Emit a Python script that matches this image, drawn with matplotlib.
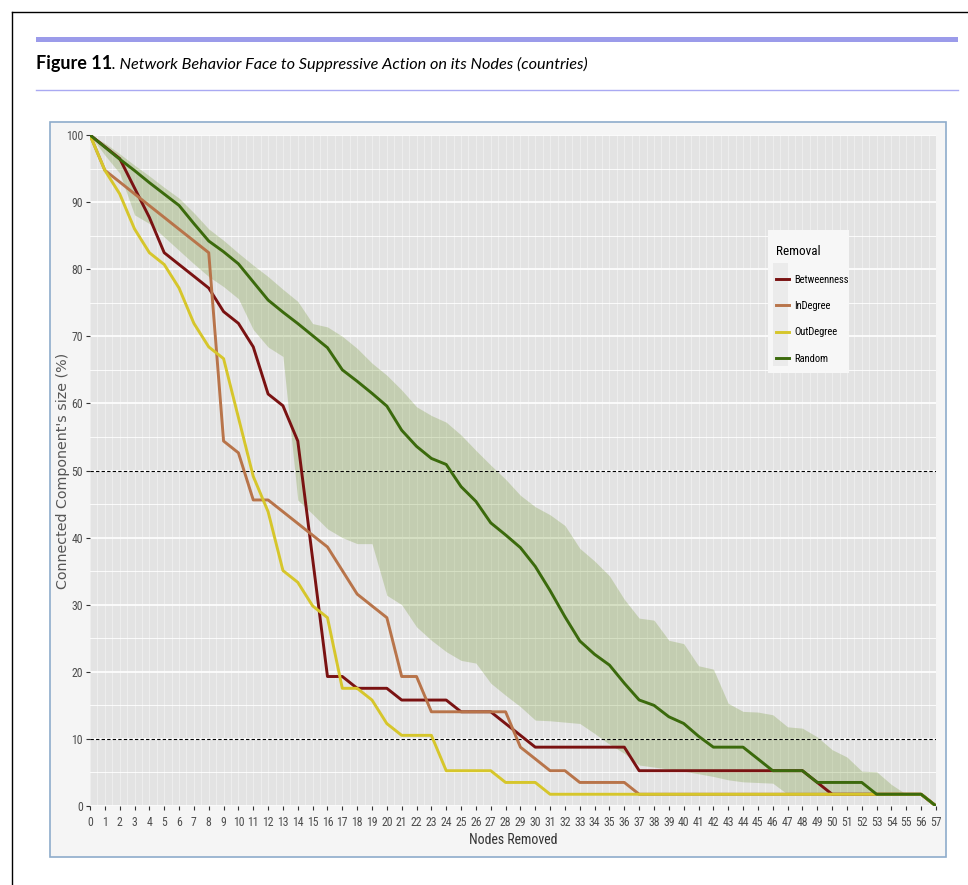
import numpy as np
import matplotlib.pyplot as plt
from matplotlib import font_manager as fm
from matplotlib.patches import Rectangle
from matplotlib.lines import Line2D


def pick_narrow():
    # prefer a condensed sans (the chart uses Arial Narrow-like text)
    for fam in ['Liberation Sans Narrow', 'Roboto Condensed', 'Open Sans Condensed']:
        try:
            fm.findfont(fm.FontProperties(family=fam), fallback_to_default=False)
            return {'family': fam}
        except Exception:
            pass
    for fam in ['Noto Sans', 'Open Sans', 'Roboto']:
        try:
            p = fm.findfont(fm.FontProperties(family=fam, stretch='condensed'),
                            fallback_to_default=False)
            if 'ondensed' in p:
                return {'fname': p}
        except Exception:
            pass
    return {'family': 'Liberation Sans'}


NARROW = pick_narrow()


def narrow(size, **kw):
    if 'fname' in NARROW:
        return fm.FontProperties(fname=NARROW['fname'], size=size, **kw)
    return fm.FontProperties(family=[NARROW['family'], 'DejaVu Sans'], size=size, **kw)


# nodes removed (x axis) and connected component size (%) per strategy
nodes = np.arange(58)

betweenness = [100, 98.25, 96.49, 92.1, 87.72, 82.46, 80.7, 78.95, 77.19, 73.68,
               71.93, 68.42, 61.40, 59.65, 54.39, 36.84, 19.30, 19.30, 17.54, 17.54,
               17.54, 15.79, 15.79, 15.79, 15.79, 14.04, 14.04, 14.04, 12.28, 10.53,
               8.77, 8.77, 8.77, 8.77, 8.77, 8.77, 8.77, 5.26, 5.26, 5.26,
               5.26, 5.26, 5.26, 5.26, 5.26, 5.26, 5.26, 5.26, 5.26, 3.51,
               1.75, 1.75, 1.75, 1.75, 1.75, 1.75, 1.75, 0]

indegree = [100, 94.74, 93.0, 91.23, 89.47, 87.72, 85.96, 84.21, 82.46, 54.39,
            52.63, 45.61, 45.61, 43.86, 42.11, 40.35, 38.60, 35.09, 31.58, 29.82,
            28.07, 19.30, 19.30, 14.04, 14.04, 14.04, 14.04, 14.04, 14.04, 8.77,
            7.02, 5.26, 5.26, 3.51, 3.51, 3.51, 3.51, 1.75, 1.75, 1.75,
            1.75, 1.75, 1.75, 1.75, 1.75, 1.75, 1.75, 1.75, 1.75, 1.75,
            1.75, 1.75, 1.75, 1.75, 1.75, 1.75, 1.75, 0]

outdegree = [100, 94.74, 91.23, 86.0, 82.46, 80.7, 77.19, 71.93, 68.42, 66.67,
             57.89, 49.12, 43.86, 35.09, 33.33, 29.82, 28.07, 17.54, 17.54, 15.79,
             12.28, 10.53, 10.53, 10.53, 5.26, 5.26, 5.26, 5.26, 3.51, 3.51,
             3.51, 1.75, 1.75, 1.75, 1.75, 1.75, 1.75, 1.75, 1.75, 1.75,
             1.75, 1.75, 1.75, 1.75, 1.75, 1.75, 1.75, 1.75, 1.75, 1.75,
             1.75, 1.75, 1.75, 1.75, 1.75, 1.75, 1.75, 0]

random_mean = [100, 98.2, 96.4, 94.7, 92.9, 91.2, 89.5, 86.8, 84.2, 82.6,
               80.8, 78.1, 75.4, 73.6, 71.9, 70.1, 68.3, 65.0, 63.3, 61.5,
               59.6, 56.0, 53.6, 51.8, 50.9, 47.6, 45.4, 42.2, 40.4, 38.5,
               35.7, 32.1, 28.2, 24.6, 22.6, 21.0, 18.3, 15.8, 15.0, 13.3,
               12.3, 10.4, 8.77, 8.77, 8.77, 7.02, 5.26, 5.26, 5.26, 3.51,
               3.51, 3.51, 3.51, 1.75, 1.75, 1.75, 1.75, 0]

random_upper = [100, 98.8, 97.2, 95.5, 93.9, 92.2, 90.6, 88.4, 86.0, 84.3,
                82.4, 80.6, 78.9, 77.0, 75.2, 71.9, 71.4, 70.0, 68.2, 66.0,
                64.2, 62.0, 59.5, 58.2, 57.2, 55.3, 53.0, 50.8, 48.7, 46.3,
                44.6, 43.4, 41.8, 38.4, 36.5, 34.3, 30.8, 28.0, 27.7, 24.7,
                24.2, 20.9, 20.4, 15.3, 14.1, 14.0, 13.6, 11.8, 11.6, 10.3,
                8.4, 7.3, 5.2, 5.1, 3.2, 1.75, 1.75, 0]

random_lower = [100, 97.0, 94.3, 88.1, 86.8, 84.8, 82.8, 80.8, 78.9, 77.4,
                75.6, 71.0, 68.4, 67.0, 45.6, 43.5, 41.3, 40.0, 39.1, 39.1,
                31.4, 30.0, 26.7, 24.7, 23.0, 21.7, 21.3, 18.3, 16.5, 14.8,
                12.8, 12.7, 12.5, 12.3, 10.8, 9.2, 7.85, 6.1, 5.8, 5.5,
                5.2, 4.8, 4.4, 3.9, 3.6, 3.5, 3.4, 1.75, 1.75, 1.75,
                1.75, 1.75, 1.75, 1.75, 1.75, 1.75, 1.75, 0]

W, H = 968, 885
fig = plt.figure(figsize=(W / 100, H / 100), dpi=100)

# page frame, header bar and rule
fig.add_artist(Line2D([12 / W, 12 / W], [0, 1 - 12 / H], color='black', lw=1))
fig.add_artist(Line2D([12 / W, 1], [1 - 12 / H, 1 - 12 / H], color='black', lw=1))
fig.add_artist(Rectangle((36 / W, 1 - 42 / H), 922 / W, 5 / H, facecolor='#9b9bea', lw=0))
fig.add_artist(Line2D([36 / W, 958 / W], [1 - 90 / H, 1 - 90 / H], color='#a9a9f2', lw=1))

t1 = fig.text(36 / W, 1 - 69 / H, 'Figure 11', family='Lato', weight='bold', size=13,
              va='baseline', color='black')
bb = t1.get_window_extent(renderer=fig.canvas.get_renderer())
fig.text(bb.x1 / W, 1 - 69 / H,
         '. Network Behavior Face to Suppressive Action on its Nodes (countries)',
         family='Lato', style='italic', size=11.7, va='baseline', color='black')

# chart panel
fig.add_artist(Rectangle((50 / W, 1 - 857 / H), 896 / W, 735 / H, facecolor='#f5f5f5',
                         edgecolor='#8eaccb', lw=1.2, zorder=-1))

ax = fig.add_axes([90 / W, 1 - 806 / H, 846 / W, 671 / H])
ax.set_facecolor('#e3e3e3')
ax.set_axisbelow(True)
for s in ax.spines.values():
    s.set_visible(False)

ax.fill_between(nodes, random_lower, random_upper, color='#678f1f', alpha=0.25, lw=0)
ax.axhline(50, color='black', lw=0.8, ls=(0, (3, 2)))
ax.axhline(10, color='black', lw=0.8, ls=(0, (3, 2)))

ax.plot(nodes, betweenness, color='#7a1212', lw=2.1, label='Betweenness')
ax.plot(nodes, indegree, color='#b8744a', lw=2.1, label='InDegree')
ax.plot(nodes, outdegree, color='#d6c62b', lw=2.1, label='OutDegree')
ax.plot(nodes, random_mean, color='#3b6a0c', lw=2.1, label='Random')

ax.set_xlim(0, 57)
ax.set_ylim(0, 100)
ax.set_xticks(nodes)
ax.set_xticks(np.arange(0.5, 57, 1), minor=True)
ax.set_yticks(range(0, 101, 10))
ax.set_yticks(range(5, 100, 10), minor=True)
ax.grid(axis='y', which='major', color='white', lw=1.2)
ax.grid(axis='y', which='minor', color='white', lw=0.6)
ax.grid(axis='x', which='both', color='#f0f0f0', lw=0.6)
ax.tick_params(which='minor', length=0)
ax.tick_params(which='major', length=3, width=0.8, color='#333333', labelcolor='#4d4d4d')
ax.tick_params(axis='x', pad=4)
ax.tick_params(axis='y', pad=2)
for lab in ax.get_xticklabels() + ax.get_yticklabels():
    lab.set_fontproperties(narrow(8.5))

ax.set_xlabel('Nodes Removed', fontproperties=narrow(10), color='#333333')
ax.xaxis.set_label_coords(0.5, -0.040)
ax.set_ylabel("Connected Component's size (%)", family='DejaVu Sans', fontsize=10.3,
              color='#555555')
ax.yaxis.set_label_coords(-0.024, 0.5)

leg = ax.legend(title='Removal', loc='upper left', bbox_to_anchor=(771 / W, 1 - 240 / H),
                bbox_transform=fig.transFigure, frameon=False, prop=narrow(7.6),
                title_fontproperties=narrow(9.5), handlelength=1.2, handletextpad=0.5,
                labelspacing=1.55, borderpad=0, alignment='left')
leg.set_zorder(6)
# legend background and grey key column
ax.add_patch(Rectangle((768 / W, 1 - 373 / H), 81 / W, 143 / H, transform=fig.transFigure,
                       facecolor='#f7f7f7', lw=0, zorder=4, clip_on=False))
ax.add_patch(Rectangle((773 / W, 1 - 366 / H), 15 / W, 103 / H, transform=fig.transFigure,
                       facecolor='#ebebeb', lw=0, zorder=5, clip_on=False))

fig.savefig('out.png', dpi=100)
